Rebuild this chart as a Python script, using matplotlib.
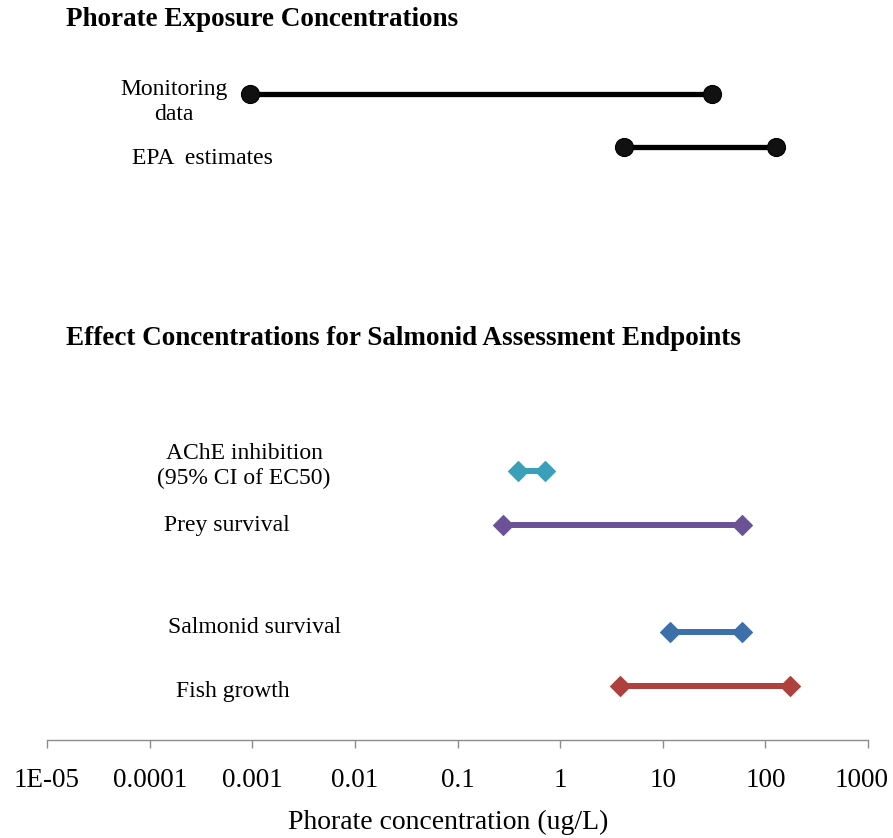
import matplotlib
matplotlib.use("Agg")
import matplotlib.pyplot as plt
import matplotlib.transforms as mtransforms

plt.rcParams['font.family'] = ['Liberation Serif', 'DejaVu Serif']

W, H = 893, 838

# Exposure ranges (ug/L)
exposure_labels = ["Monitoring\ndata", "EPA  estimates"]
exposure_low = [0.00095, 4.2]
exposure_high = [30.0, 126.0]

# Effect concentration ranges (ug/L)
effect_labels = ["AChE inhibition\n(95% CI of EC50)", "Prey survival",
                 "Salmonid survival", "Fish growth"]
effect_low = [0.39, 0.28, 11.7, 3.8]
effect_high = [0.71, 59.0, 59.0, 173.0]
effect_colors = ["#3a9fb8", "#6b5297", "#3d6fab", "#ae403d"]

tick_values = [1e-5, 1e-4, 1e-3, 1e-2, 1e-1, 1, 10, 100, 1000]
tick_labels = ["1E-05", "0.0001", "0.001", "0.01", "0.1", "1", "10", "100", "1000"]

# row positions (vertical, top-down)
exposure_rows = [94, 147]
effect_rows = [471, 525, 632, 686]
exposure_label_y = [102, 158]
effect_label_y = [466, 525, 627, 691]
exposure_label_x = [174, 202]
effect_label_x = [244, 227, 255, 233]

fig = plt.figure(figsize=(W / 100, H / 100), dpi=100)
ax_bottom = 740
ax = fig.add_axes([47 / W, 1 - ax_bottom / H, (868 - 47) / W, ax_bottom / H])
ax.set_xscale('log')
ax.set_xlim(1e-5, 1000)
ax.set_ylim(ax_bottom, 0)

for y, lo, hi in zip(exposure_rows, exposure_low, exposure_high):
    ax.plot([lo, hi], [y, y], color='black', lw=3.8, solid_capstyle='butt',
            marker='o', markersize=13, markerfacecolor='#111111',
            markeredgecolor='black', markeredgewidth=0.8, zorder=3)

for y, lo, hi, c in zip(effect_rows, effect_low, effect_high, effect_colors):
    ax.plot([lo, hi], [y, y], color=c, lw=4.3, solid_capstyle='butt',
            marker='D', markersize=10.5, markerfacecolor=c,
            markeredgecolor=c, markeredgewidth=0.8, zorder=3)

for s in ['top', 'right', 'left']:
    ax.spines[s].set_visible(False)
ax.spines['bottom'].set_color('#8c8c8c')
ax.spines['bottom'].set_linewidth(1.0)
ax.set_yticks([])
ax.set_xticks(tick_values)
ax.set_xticklabels(tick_labels, fontsize=19.5)
ax.xaxis.set_minor_locator(matplotlib.ticker.NullLocator())
ax.tick_params(axis='x', direction='out', length=6, color='#8c8c8c',
               width=1.0, pad=14)
# keep the last tick label inside the figure edge
last = ax.get_xticklabels()[-1]
last.set_transform(last.get_transform() +
                   mtransforms.ScaledTranslation(-6 / 100, 0, fig.dpi_scale_trans))
ax.set_xlabel("Phorate concentration (ug/L)", fontsize=20, labelpad=12)
ax.xaxis.set_label_coords((448 - 47) / (868 - 47), -0.095)

def ftext(x, y, s, **kw):
    fig.text(x / W, 1 - y / H, s, **kw)

ftext(66, 20, "Phorate Exposure Concentrations", fontsize=19.5,
      fontweight='bold', ha='left', va='center')
ftext(66, 338, "Effect Concentrations for Salmonid Assessment Endpoints",
      fontsize=19.5, fontweight='bold', ha='left', va='center')

for x, y, s in zip(exposure_label_x, exposure_label_y, exposure_labels):
    ftext(x, y, s, fontsize=17, ha='center', va='center', linespacing=1.2)
for x, y, s in zip(effect_label_x, effect_label_y, effect_labels):
    ftext(x, y, s, fontsize=17, ha='center', va='center', linespacing=1.2)

fig.savefig("out.png", dpi=100)
